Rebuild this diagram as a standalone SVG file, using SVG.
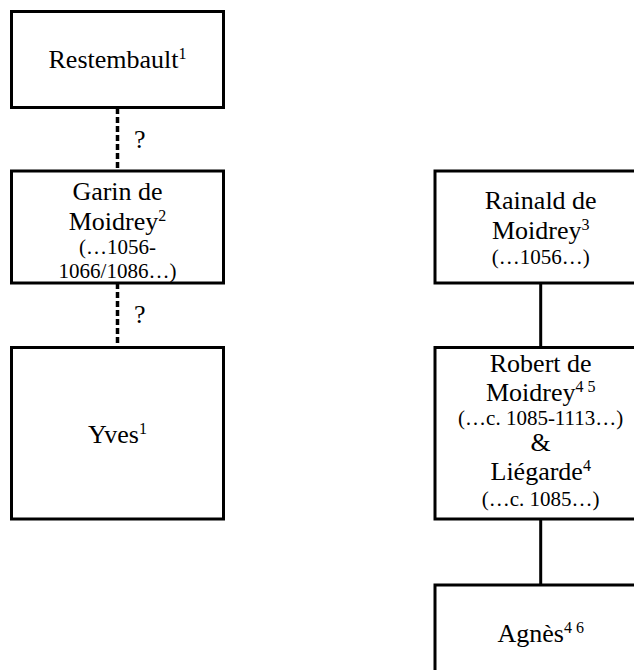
<svg xmlns="http://www.w3.org/2000/svg" width="634" height="670" viewBox="0 0 634 670">
<style>
.box{fill:#fff;stroke:#000;stroke-width:3}
.t{font-family:"Liberation Serif","Times New Roman",serif;font-size:26px;fill:#000;text-anchor:middle}
.d{font-size:21px}
.sup{font-size:16px}
.q{font-family:"Liberation Serif","Times New Roman",serif;font-size:26px;fill:#000}
.solid{stroke:#000;stroke-width:3;fill:none}
.dot{stroke:#000;stroke-width:3.5;fill:none;stroke-dasharray:6 3}
</style>
<rect width="634" height="670" fill="#fff"/>
<g id="connectors">
<line class="dot" x1="117.5" y1="108" x2="117.5" y2="171"/>
<line class="dot" x1="117.5" y1="283" x2="117.5" y2="347"/>
<text class="q" x="134" y="148">?</text>
<text class="q" x="134" y="323">?</text>
<line class="solid" x1="540.7" y1="283" x2="540.7" y2="347"/>
<line class="solid" x1="540.7" y1="519" x2="540.7" y2="585"/>
</g>
<g id="restembault">
<rect class="box" x="11.5" y="11.5" width="212" height="96"/>
<text class="t" x="117.5" y="68">Restembault<tspan class="sup" dy="-9">1</tspan></text>
</g>
<g id="garin">
<rect class="box" x="11.5" y="171" width="212" height="112"/>
<text class="t" x="117.5" y="200">Garin de</text>
<text class="t" x="117.5" y="230">Moidrey<tspan class="sup" dy="-9">2</tspan></text>
<text class="t d" x="117.5" y="254">(…1056-</text>
<text class="t d" x="117.5" y="278">1066/1086…)</text>
</g>
<g id="yves">
<rect class="box" x="11.5" y="347.5" width="212" height="171.5"/>
<text class="t" x="117.5" y="443">Yves<tspan class="sup" dy="-9">1</tspan></text>
</g>
<g id="rainald">
<rect class="box" x="435" y="171" width="212" height="112"/>
<text class="t" x="540.7" y="209">Rainald de</text>
<text class="t" x="540.7" y="239">Moidrey<tspan class="sup" dy="-9">3</tspan></text>
<text class="t d" x="540.7" y="264">(…1056…)</text>
</g>
<g id="robert">
<rect class="box" x="435" y="347.5" width="212" height="171.5"/>
<text class="t" x="540.7" y="372">Robert de</text>
<text class="t" x="540.7" y="401">Moidrey<tspan class="sup" dy="-9" xml:space="preserve">4 5</tspan></text>
<text class="t d" x="540.7" y="425">(…c. 1085-1113…)</text>
<text class="t" x="540.7" y="451">&amp;</text>
<text class="t" x="540.7" y="480">Liégarde<tspan class="sup" dy="-9">4</tspan></text>
<text class="t d" x="540.7" y="506">(…c. 1085…)</text>
</g>
<g id="agnes">
<rect class="box" x="435" y="585" width="212" height="120"/>
<text class="t" x="540.7" y="642">Agnès<tspan class="sup" dy="-9" xml:space="preserve">4 6</tspan></text>
</g>
</svg>
